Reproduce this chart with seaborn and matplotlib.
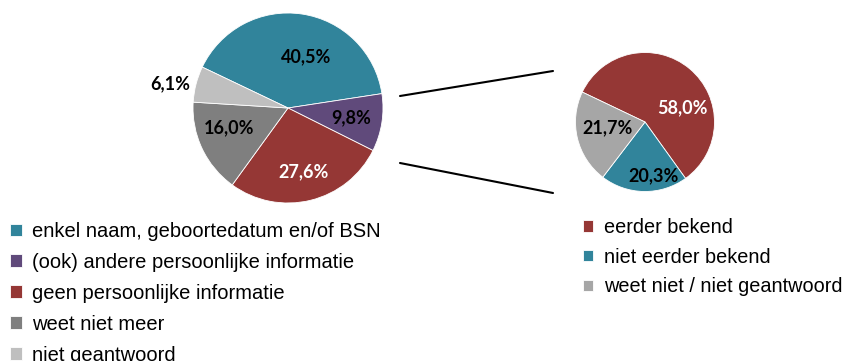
import numpy as np
import matplotlib.pyplot as plt
import seaborn as sns
from matplotlib.lines import Line2D

sns.set_theme(style='white')
plt.rcParams['font.family'] = ['Liberation Sans', 'DejaVu Sans']
plt.rcParams['text.color'] = 'black'

# ---- data ----
main_labels = ['enkel naam, geboortedatum en/of BSN',
               '(ook) andere persoonlijke informatie',
               'geen persoonlijke informatie',
               'weet niet meer',
               'niet geantwoord']
main_values = [40.5, 9.8, 27.6, 16.0, 6.1]
main_colors = ['#31849B', '#604A7B', '#953735', '#7F7F7F', '#BFBFBF']
main_text_colors = ['black', 'black', 'white', 'black', 'black']

sub_labels = ['eerder bekend', 'niet eerder bekend', 'weet niet / niet geantwoord']
sub_values = [58.0, 20.3, 21.7]
sub_colors = ['#953735', '#31849B', '#A6A6A6']
sub_text_colors = ['white', 'black', 'black']

# label placement (radius, angle shift in degrees) per slice
main_lab_pos = [(0.57, -11), (0.67, 0), (0.69, 0), (0.65, -7), (1.27, 3)]
sub_lab_pos = [(0.58, -30), (0.79, 10), (0.54, -4)]

W, H = 846, 361
fig = plt.figure(figsize=(W / 100, H / 100), dpi=100)


def px_axes(cx, cy, r):
    return fig.add_axes([(cx - r) / W, 1 - (cy + r) / H, 2 * r / W, 2 * r / H])


def draw_pie(ax, values, colors, text_colors, lab_pos):
    wedges, _ = ax.pie(values, colors=colors, startangle=154.5, counterclock=False,
                       wedgeprops=dict(linewidth=0.6, edgecolor='white'))
    ax.set_xlim(-1, 1)
    ax.set_ylim(-1, 1)
    ax.set_aspect('equal')
    for w, v, tc, (r, sh) in zip(wedges, values, text_colors, lab_pos):
        ang = np.deg2rad((w.theta1 + w.theta2) / 2 + sh)
        ax.text(r * np.cos(ang), r * np.sin(ang), f'{v:.1f}%'.replace('.', ','),
                ha='center', va='center', color=tc, fontsize=13,
                fontweight='bold', family=['Lato', 'DejaVu Sans'])
    return wedges


ax1 = px_axes(288, 108, 95)
w1 = draw_pie(ax1, main_values, main_colors, main_text_colors, main_lab_pos)

ax2 = px_axes(645, 122, 69.5)
w2 = draw_pie(ax2, sub_values, sub_colors, sub_text_colors, sub_lab_pos)

# connector lines
for (x0, y0), (x1, y1) in [((400, 96), (553, 71)), ((400, 163), (553, 193))]:
    fig.add_artist(Line2D([x0 / W, x1 / W], [1 - y0 / H, 1 - y1 / H],
                          color='black', linewidth=1.5, transform=fig.transFigure))

fig.legend(w1, main_labels, loc='upper left', bbox_to_anchor=(10 / W, 1 - 222 / H),
           frameon=False, fontsize=14.5, handlelength=0.6, handleheight=0.6,
           handletextpad=0.5, labelspacing=0.59, borderpad=0, borderaxespad=0,
           labelcolor='black')
fig.legend(w2, sub_labels, loc='upper left', bbox_to_anchor=(583 / W, 1 - 218 / H),
           frameon=False, fontsize=14.3, handlelength=0.52, handleheight=0.52,
           handletextpad=0.55, labelspacing=0.54, borderpad=0, borderaxespad=0,
           labelcolor='black')

fig.savefig('out.png', dpi=100)
